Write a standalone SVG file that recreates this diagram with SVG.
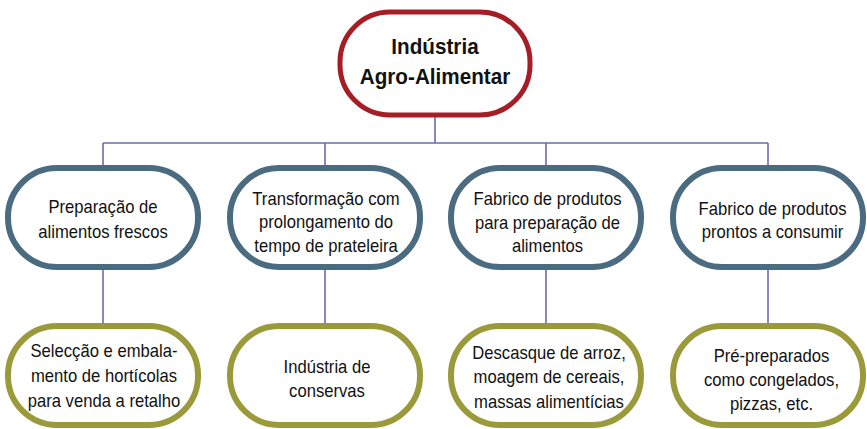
<svg xmlns="http://www.w3.org/2000/svg" width="867" height="429" viewBox="0 0 867 429">
<style>
.bg{fill:#ffffff}
.top{fill:#ffffff;stroke:#a51e26;stroke-width:5}
.mid{fill:#ffffff;stroke:#4b6b80;stroke-width:6}
.bot{fill:#ffffff;stroke:#9b9a3a;stroke-width:6}
.conn{fill:none;stroke:#6c6caa;stroke-width:1.6}
text{font-family:"Liberation Sans",Arial,sans-serif;fill:#111111;text-anchor:middle}
.t{font-size:18px}
.h{font-size:22px;font-weight:bold}
</style>
<rect class="bg" x="0" y="0" width="867" height="429"/>
<g id="connectors">
<path class="conn" d="M435 117V143M103 143H768M103 143V166M325 143V166M546 143V166M768 143V166M103 269V324M325 269V324M546 269V324M768 269V324"/>
</g>
<g id="root">
<rect class="top" x="340" y="12" width="190" height="103" rx="50"/>
<g transform="translate(435 0) scale(0.94 1)">
<text class="h" x="0" y="54">Indústria</text>
<text class="h" x="0" y="84">Agro-Alimentar</text>
</g>
</g>
<g id="n1">
<rect class="mid" x="8" y="168" width="190" height="99" rx="49"/>
<g transform="translate(103 0) scale(0.925 1)">
<text class="t" x="0" y="213">Preparação de</text>
<text class="t" x="0" y="238.5">alimentos frescos</text>
</g>
</g>
<g id="n2">
<rect class="mid" x="230" y="168" width="190" height="99" rx="49"/>
<g transform="translate(326 0) scale(0.925 1)">
<text class="t" x="0" y="205">Transformação com</text>
<text class="t" x="0" y="228.5">prolongamento do</text>
<text class="t" x="0" y="252">tempo de prateleira</text>
</g>
</g>
<g id="n3">
<rect class="mid" x="451" y="168" width="190" height="99" rx="49"/>
<g transform="translate(547.5 0) scale(0.925 1)">
<text class="t" x="0" y="205.5">Fabrico de produtos</text>
<text class="t" x="0" y="229">para preparação de</text>
<text class="t" x="0" y="252.5">alimentos</text>
</g>
</g>
<g id="n4">
<rect class="mid" x="673" y="168" width="190" height="99" rx="49"/>
<g transform="translate(772.5 0) scale(0.925 1)">
<text class="t" x="0" y="215">Fabrico de produtos</text>
<text class="t" x="0" y="238.5">prontos a consumir</text>
</g>
</g>
<g id="b1">
<rect class="bot" x="8" y="326" width="190" height="99" rx="49"/>
<g transform="translate(104 0) scale(0.925 1)">
<text class="t" x="0" y="357">Selecção e embala-</text>
<text class="t" x="0" y="382">mento de hortícolas</text>
<text class="t" x="0" y="407">para venda a retalho</text>
</g>
</g>
<g id="b2">
<rect class="bot" x="230" y="326" width="190" height="99" rx="49"/>
<g transform="translate(327 0) scale(0.925 1)">
<text class="t" x="0" y="373">Indústria de</text>
<text class="t" x="0" y="397">conservas</text>
</g>
</g>
<g id="b3">
<rect class="bot" x="451" y="326" width="190" height="99" rx="49"/>
<g transform="translate(549 0) scale(0.925 1)">
<text class="t" x="0" y="359">Descasque de arroz,</text>
<text class="t" x="0" y="383">moagem de cereais,</text>
<text class="t" x="0" y="408">massas alimentícias</text>
</g>
</g>
<g id="b4">
<rect class="bot" x="673" y="326" width="190" height="99" rx="49"/>
<g transform="translate(771.5 0) scale(0.925 1)">
<text class="t" x="0" y="362">Pré-preparados</text>
<text class="t" x="0" y="386">como congelados,</text>
<text class="t" x="0" y="410">pizzas, etc.</text>
</g>
</g>
</svg>
